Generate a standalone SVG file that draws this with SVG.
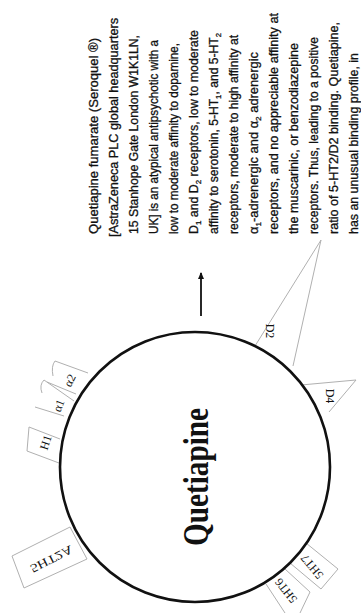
<svg xmlns="http://www.w3.org/2000/svg" width="361" height="613" viewBox="0 0 361 613">
<style>
.body{font-family:"Liberation Sans",Arial,sans-serif;font-size:12.5px;fill:#111;stroke:#111;stroke-width:0.3}
.rec{fill:none;stroke:#b0b0b0;stroke-width:1}
.lab{font-family:"Liberation Serif","Times New Roman",serif;font-size:12px;fill:#111}
</style>
<defs>
<marker id="ah" markerWidth="8" markerHeight="8" refX="6" refY="4" orient="auto" markerUnits="userSpaceOnUse">
<path d="M0,1 L7,4 L0,7 Z" fill="#111"/>
</marker>
</defs>
<rect width="361" height="613" fill="#fff"/>
<g id="description" transform="translate(0,613) rotate(-90)">
<text class="body" x="379" y="97.5" textLength="196" lengthAdjust="spacingAndGlyphs">Quetiapine fumarate (Seroquel ®)</text>
<text class="body" x="376" y="117.5" textLength="219" lengthAdjust="spacingAndGlyphs">[AstraZeneca PLC global headquarters</text>
<text class="body" x="379" y="137.5" textLength="199" lengthAdjust="spacingAndGlyphs">15 Stanhope Gate London W1K1LN,</text>
<text class="body" x="379" y="157.5" textLength="194" lengthAdjust="spacingAndGlyphs">UK] is an atypical antipsychotic with a</text>
<text class="body" x="379" y="177.5" textLength="191" lengthAdjust="spacingAndGlyphs">low to moderate affinity to dopamine,</text>
<text class="body" x="379" y="197.5" textLength="204" lengthAdjust="spacingAndGlyphs">D<tspan dy="3" font-size="8">1</tspan><tspan dy="-3"> and D</tspan><tspan dy="3" font-size="8">2</tspan><tspan dy="-3"> receptors, low to moderate</tspan></text>
<text class="body" x="379" y="217.5" textLength="201" lengthAdjust="spacingAndGlyphs">affinity to serotonin, 5-HT<tspan dy="3" font-size="8">1</tspan><tspan dy="-3">, and 5-HT</tspan><tspan dy="3" font-size="8">2</tspan></text>
<text class="body" x="379" y="237.5" textLength="199" lengthAdjust="spacingAndGlyphs">receptors, moderate to high affinity at</text>
<text class="body" x="379" y="257.5" textLength="182" lengthAdjust="spacingAndGlyphs">α<tspan dy="3" font-size="8">1</tspan><tspan dy="-3">-adrenergic and α</tspan><tspan dy="3" font-size="8">2</tspan><tspan dy="-3">  adrenergic</tspan></text>
<text class="body" x="379" y="277.5" textLength="221" lengthAdjust="spacingAndGlyphs">receptors, and no appreciable affinity at</text>
<text class="body" x="379" y="297.5" textLength="191" lengthAdjust="spacingAndGlyphs">the muscarinic, or benzodiazepine</text>
<text class="body" x="379" y="317.5" textLength="197" lengthAdjust="spacingAndGlyphs">receptors. Thus, leading to a positive</text>
<text class="body" x="379" y="337.5" textLength="212" lengthAdjust="spacingAndGlyphs">ratio of 5-HT2/D2 binding. Quetiapine,</text>
<text class="body" x="379" y="357.5" textLength="181" lengthAdjust="spacingAndGlyphs">has an unusual binding profile, in</text>
</g>
<g id="connectors">
<line x1="201" y1="316" x2="201" y2="273" stroke="#111" stroke-width="1.8" marker-end="url(#ah)"/>
</g>
<g id="r-5HT2A">
<polygon class="rec" points="12,556 70,527 87,559 24,588"/>
<text class="lab" font-size="13" transform="translate(51,558) rotate(-27) scale(1,-1)" text-anchor="middle" dominant-baseline="middle" textLength="46" lengthAdjust="spacingAndGlyphs">5HT2A</text>
</g>
<g id="r-H1">
<polyline class="rec" points="60,439 29,427 27,451 59,463"/>
<text class="lab" transform="translate(47,443) rotate(-72)" text-anchor="middle" dominant-baseline="middle">H1</text>
</g>
<g id="r-a1">
<path class="rec" d="M74,401 L44,380 M64,416 L35,407 M44,380 Q39,385 42,393"/>
<text class="lab" transform="translate(60,406) rotate(-68)" text-anchor="middle" dominant-baseline="middle">α1</text>
</g>
<g id="r-a2">
<path class="rec" d="M88,373 L55,361 M76,394 L47,382 M55,361 Q51,366 53,376"/>
<text class="lab" transform="translate(71,381) rotate(-64)" text-anchor="middle" dominant-baseline="middle">α2</text>
</g>
<g id="r-D2">
<polyline class="rec" points="255,346 321,240 293,366"/>
<text class="lab" font-size="13" transform="translate(269,331) rotate(90)" text-anchor="middle" dominant-baseline="middle">D2</text>
</g>
<g id="r-D4">
<polyline class="rec" points="301,385 356,380 329,412"/>
<text class="lab" font-size="13" transform="translate(329,396) rotate(90)" text-anchor="middle" dominant-baseline="middle">D4</text>
</g>
<g id="r-5HT7">
<polyline class="rec" points="306,543 338,569 321,589 290,563"/>
<text class="lab" font-size="11" transform="translate(313,566) rotate(-130)" text-anchor="middle" dominant-baseline="middle">5HT7</text>
</g>
<g id="r-5HT6">
<polyline class="rec" points="285,569 310,592 300,613"/>
<polyline class="rec" points="266,584 285,613"/>
<text class="lab" font-size="11" transform="translate(287,590) rotate(-128)" text-anchor="middle" dominant-baseline="middle">5HT6</text>
</g>
<g id="drug">
<circle cx="195" cy="467" r="135" fill="none" stroke="#111" stroke-width="2.6"/>
<text transform="translate(208,477) rotate(-90)" text-anchor="middle" font-family="'Liberation Serif','Times New Roman',serif" font-weight="bold" font-size="35" textLength="138" lengthAdjust="spacingAndGlyphs" fill="#111">Quetiapine</text>
</g>
</svg>
